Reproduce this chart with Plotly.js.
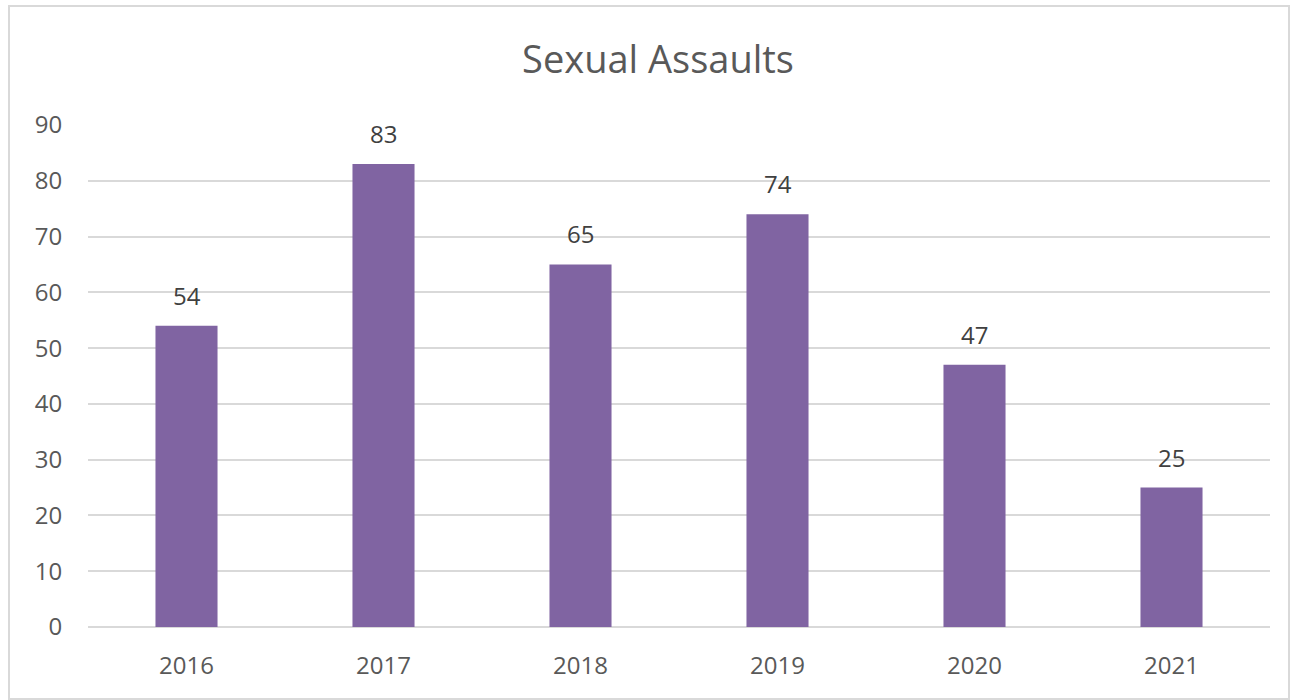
<!DOCTYPE html>
<html><head><meta charset="utf-8">
<script src="https://cdn.plot.ly/plotly-3.0.1.min.js"></script>
<style>
html,body{margin:0;padding:0;background:#fff;}
#frame{position:absolute;left:8px;top:5px;width:1278px;height:691px;border:2px solid #d9d9d9;}
#chart{position:absolute;left:0;top:0;width:1291px;height:700px;}
</style></head>
<body>
<div id="frame"></div>
<div id="chart"></div>
<script>
const years = [2016, 2017, 2018, 2019, 2020, 2021];
const yearLabels = ['2016','2017','2018','2019','2020','2021'];
const assaults = [54, 83, 65, 74, 47, 25];
const yTicks = [0,10,20,30,40,50,60,70,80,90];

const FONT = 'Open Sans, Noto Sans, sans-serif';
const traces = [{
  type: 'bar', x: years, y: assaults, width: 0.315,
  marker: {color: '#8064a2', line: {width: 0}}, hoverinfo: 'x+y'
}];
const notes = years.map((yr, i) => ({
  x: yr, y: assaults[i], xref: 'x', yref: 'y', text: String(assaults[i]),
  showarrow: false, yanchor: 'bottom', yshift: 12,
  font: {family: FONT, size: 24, color: '#404040'}
}));
const lay = {
  width: 1291, height: 700,
  margin: {l: 88, r: 21, t: 125, b: 73},
  paper_bgcolor: 'rgba(0,0,0,0)', plot_bgcolor: 'rgba(0,0,0,0)',
  title: {text: 'Sexual Assaults', x: 0.5097, xanchor: 'center', y: 0.915, yanchor: 'middle',
          font: {family: FONT, size: 38, color: '#595959'}},
  showlegend: false,
  xaxis: {type: 'linear', range: [years[0] - 0.5, years[years.length - 1] + 0.5],
          tickvals: years, ticktext: yearLabels,
          showgrid: false, showline: false, zeroline: false,
          ticks: 'outside', ticklen: 17, tickcolor: 'rgba(0,0,0,0)',
          tickfont: {family: FONT, size: 24, color: '#595959'}},
  yaxis: {type: 'linear', range: [0, 90], tickvals: yTicks, ticktext: yTicks.map(String), showgrid: true,
          gridcolor: '#d9d9d9', gridwidth: 2, zeroline: true, zerolinecolor: '#d9d9d9', zerolinewidth: 2,
          showline: false, ticks: 'outside', ticklen: 20, tickcolor: 'rgba(0,0,0,0)',
          tickfont: {family: FONT, size: 24, color: '#595959'}},
  annotations: notes
};
Plotly.newPlot('chart', traces, lay, {displayModeBar: false, staticPlot: true});
</script>
</body></html>
